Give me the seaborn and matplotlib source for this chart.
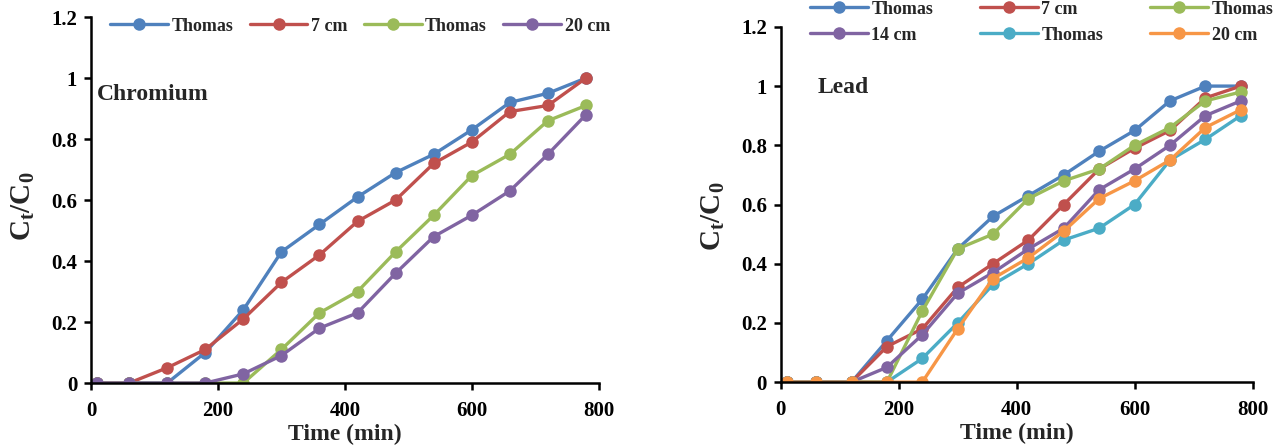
import matplotlib
matplotlib.use('Agg')
import matplotlib.pyplot as plt
import seaborn as sns

# data
time = [10, 60, 120, 180, 240, 300, 360, 420, 480, 540, 600, 660, 720, 780]

cr_thomas_a = [0, 0, 0, 0.10, 0.24, 0.43, 0.52, 0.61, 0.69, 0.75, 0.83, 0.92, 0.95, 1.00]
cr_7cm = [0, 0, 0.05, 0.11, 0.21, 0.33, 0.42, 0.53, 0.60, 0.72, 0.79, 0.89, 0.91, 1.00]
cr_thomas_b = [0, 0, 0, 0, 0, 0.11, 0.23, 0.30, 0.43, 0.55, 0.68, 0.75, 0.86, 0.91]
cr_20cm = [0, 0, 0, 0, 0.03, 0.09, 0.18, 0.23, 0.36, 0.48, 0.55, 0.63, 0.75, 0.88]

pb_thomas_a = [0, 0, 0, 0.14, 0.28, 0.45, 0.56, 0.63, 0.70, 0.78, 0.85, 0.95, 1.00, 1.00]
pb_7cm = [0, 0, 0, 0.12, 0.18, 0.32, 0.40, 0.48, 0.60, 0.72, 0.79, 0.85, 0.96, 1.00]
pb_thomas_b = [0, 0, 0, 0, 0.24, 0.45, 0.50, 0.62, 0.68, 0.72, 0.80, 0.86, 0.95, 0.98]
pb_14cm = [0, 0, 0, 0.05, 0.16, 0.30, 0.37, 0.45, 0.52, 0.65, 0.72, 0.80, 0.90, 0.95]
pb_thomas_c = [0, 0, 0, 0, 0.08, 0.20, 0.33, 0.40, 0.48, 0.52, 0.60, 0.75, 0.82, 0.90]
pb_20cm = [0, 0, 0, 0, 0, 0.18, 0.35, 0.42, 0.51, 0.62, 0.68, 0.75, 0.86, 0.92]

cr_series = [('Thomas', cr_thomas_a), ('7 cm', cr_7cm), ('Thomas', cr_thomas_b), ('20 cm', cr_20cm)]
pb_series = [('Thomas', pb_thomas_a), ('7 cm', pb_7cm), ('Thomas', pb_thomas_b),
             ('14 cm', pb_14cm), ('Thomas', pb_thomas_c), ('20 cm', pb_20cm)]

cr_colors = ['#4F81BD', '#C0504D', '#9BBB59', '#8064A2']
pb_colors = ['#4F81BD', '#C0504D', '#9BBB59', '#8064A2', '#4BACC6', '#F79646']

sns.set_style('white')
plt.rcParams['font.family'] = ['Liberation Serif', 'DejaVu Serif']
plt.rcParams['font.weight'] = 'bold'
plt.rcParams['mathtext.fontset'] = 'custom'
plt.rcParams['mathtext.rm'] = 'Liberation Serif:bold'
plt.rcParams['mathtext.it'] = 'Liberation Serif:bold'
plt.rcParams['mathtext.bf'] = 'Liberation Serif:bold'

fig = plt.figure(figsize=(12.82, 4.48), dpi=100)
ax1 = fig.add_axes([0.071, 0.145, 0.396, 0.817])
ax2 = fig.add_axes([0.609, 0.147, 0.368, 0.793])


def draw(ax, series, colors):
    for (lab, vals), c in zip(series, colors):
        sns.lineplot(x=time, y=vals, ax=ax, color=c, marker='o', markersize=9,
                     markeredgewidth=0, linewidth=2.4, label=lab, legend=False)
    ax.set_xlim(0, 800)
    ax.set_ylim(0, 1.2)
    ax.set_xticks([0, 200, 400, 600, 800])
    ax.set_yticks([0, 0.2, 0.4, 0.6, 0.8, 1.0, 1.2])
    ax.set_yticklabels(['0', '0.2', '0.4', '0.6', '0.8', '1', '1.2'])
    for s in ['top', 'right']:
        ax.spines[s].set_visible(False)
    for s in ['left', 'bottom']:
        ax.spines[s].set_color('black')
        ax.spines[s].set_linewidth(1.8)
    ax.tick_params(axis='both', direction='out', length=5, width=1.8, labelsize=15,
                   colors='black', left=True, bottom=True, pad=5)
    ax.tick_params(axis='x', pad=8)
    for t in ax.get_xticklabels() + ax.get_yticklabels():
        t.set_fontweight('bold')
    ax.set_xlabel('Time (min)', fontsize=17, fontweight='bold', labelpad=2)
    ax.set_ylabel(r'$\mathregular{C_t/C_0}$', fontsize=21, fontweight='bold')
    ax.grid(False)


draw(ax1, cr_series, cr_colors)
draw(ax2, pb_series, pb_colors)
ax1.yaxis.set_label_coords(-0.106, 0.484)
ax2.yaxis.set_label_coords(-0.114, 0.468)

ax1.text(0.012, 0.787, 'Chromium', transform=ax1.transAxes, fontsize=17,
         fontweight='bold', va='center')
ax2.text(0.078, 0.828, 'Lead', transform=ax2.transAxes, fontsize=17,
         fontweight='bold', va='center')

h1, l1 = ax1.get_legend_handles_labels()
ax1.legend(h1, l1, loc='center', bbox_to_anchor=(0.53, 0.975), ncol=4, frameon=False,
           handlelength=3.2, columnspacing=0.9, handletextpad=0.2,
           prop={'weight': 'bold', 'size': 13})

h2, l2 = ax2.get_legend_handles_labels()
order = [0, 3, 1, 4, 2, 5]
fig.legend([h2[i] for i in order], [l2[i] for i in order], loc='upper left',
           bbox_to_anchor=(0.619, 1.035), ncol=3, frameon=False,
           handlelength=3.2, columnspacing=2.6, handletextpad=0.2, labelspacing=0.5,
           prop={'weight': 'bold', 'size': 13})

fig.savefig('out.png', dpi=100)
